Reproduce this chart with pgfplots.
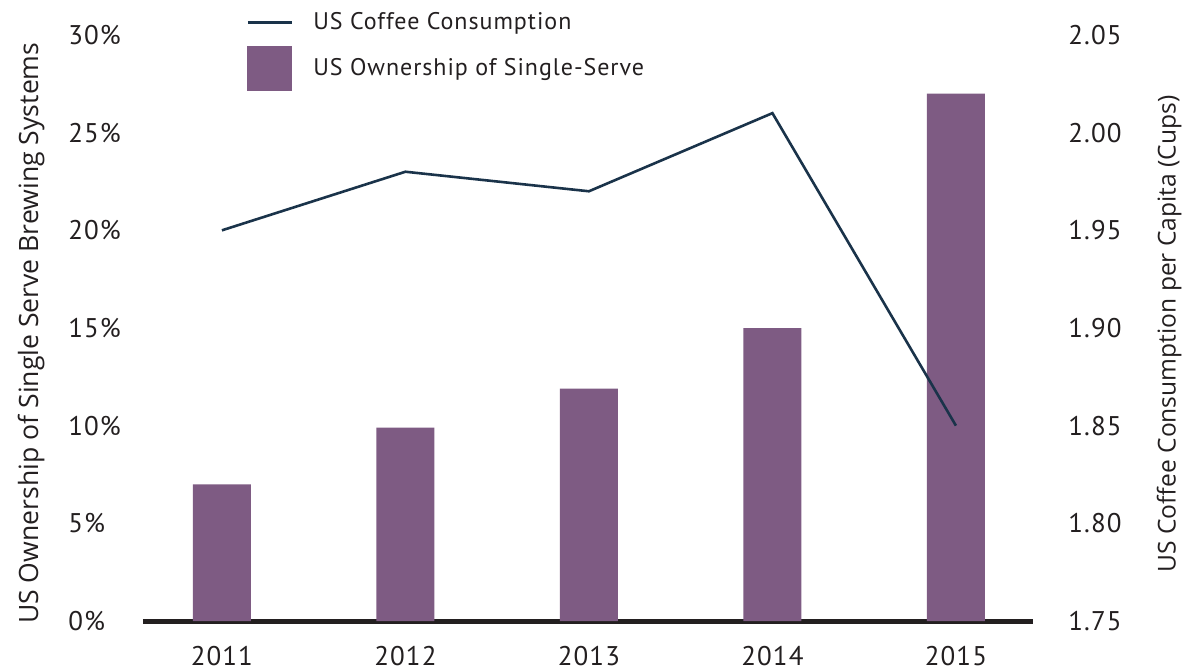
\documentclass[border=0pt]{standalone}
\usepackage{pgfplots}
\pgfplotsset{compat=1.18}
\usepackage{fontspec}
\setmainfont[LetterSpace=4]{PT Sans}
\newfontfamily\labfont{Open Sans}
\definecolor{barc}{HTML}{7E5B83}
\definecolor{linec}{HTML}{1A334A}
\definecolor{txt}{HTML}{231F20}
\begin{document}
\begin{tikzpicture}
\pgfplotsset{
  common/.style={
    scale only axis, width=445pt, height=293pt,
    at={(0,0)}, anchor=south west,
    xmin=-0.43, xmax=4.42,
    major tick length=0pt,
    tick label style={font=\fontsize{13.5}{15}\selectfont, text=txt},
    /pgf/number format/assume math mode=true,
  }
}
\begin{axis}[common,
  axis x line*=bottom, axis y line=none,
  x axis line style={line width=2.5pt, -, color=txt},
  ymin=0, ymax=30,
  xtick={0,1,2,3,4}, xticklabels={2011,2012,2013,2014,2015},
  xticklabel style={anchor=center, inner sep=0pt, yshift=-17.5pt},
  ybar, bar width=29pt,
]
\addplot[fill=barc, draw=none] coordinates {(0,7) (1,9.9) (2,11.9) (3,15) (4,27)};
\end{axis}
\begin{axis}[common,
  axis x line=none, axis y line*=left,
  y axis line style={draw=none},
  ymin=0, ymax=30, ytick={0,5,...,30},
  yticklabel={\pgfmathprintnumber{\tick}\%},
  yticklabel style={anchor=west, inner sep=0pt, xshift=-37.5pt},
  ylabel={US Ownership of Single Serve Brewing Systems},
  ylabel style={at={(axis description cs:-0.1258,0.491)}, anchor=center,
    font=\labfont\fontsize{13.3}{15}\selectfont, text=txt},
]
\addplot[draw=none, forget plot] coordinates {(0,0)};
\end{axis}
\begin{axis}[common,
  axis x line=none, axis y line*=right,
  y axis line style={draw=none},
  ymin=1.75, ymax=2.05, ytick={1.75,1.80,1.85,1.90,1.95,2.00,2.05},
  yticklabel style={anchor=west, inner sep=0pt, xshift=17.5pt,
    /pgf/number format/.cd, fixed, fixed zerofill, precision=2},
  ylabel={US Coffee Consumption per Capita (Cups)},
  ylabel style={at={(axis description cs:1.153,0.49)}, anchor=center, rotate=0,
    font=\labfont\fontsize{12.3}{14}\selectfont, text=txt},
  legend style={at={(axis description cs:0.1157,1.0394)}, anchor=north west,
    draw=none, fill=none, inner sep=0pt, row sep=7pt,
    nodes={inner sep=0pt},
    font=\fontsize{12}{14}\selectfont, text=txt,
    /tikz/every odd column/.append style={column sep=10pt}},
  legend cell align=left,
]
\addlegendimage{legend image code/.code={\draw[linec, line width=1.5pt] (0pt,0pt) -- (22pt,0pt);}}
\addlegendentry{US Coffee Consumption}
\addlegendimage{legend image code/.code={\fill[barc] (0pt,-11pt) rectangle (22pt,11pt);}}
\addlegendentry{US Ownership of Single-Serve}
\addplot[linec, line width=1.3pt, forget plot] coordinates {(0,1.95) (1,1.98) (2,1.97) (3,2.01) (4,1.85)};
\end{axis}
\pgfresetboundingbox
\path[use as bounding box] (-71.5pt,-25pt) rectangle (520.5pt,310.5pt);
\end{tikzpicture}
\end{document}
